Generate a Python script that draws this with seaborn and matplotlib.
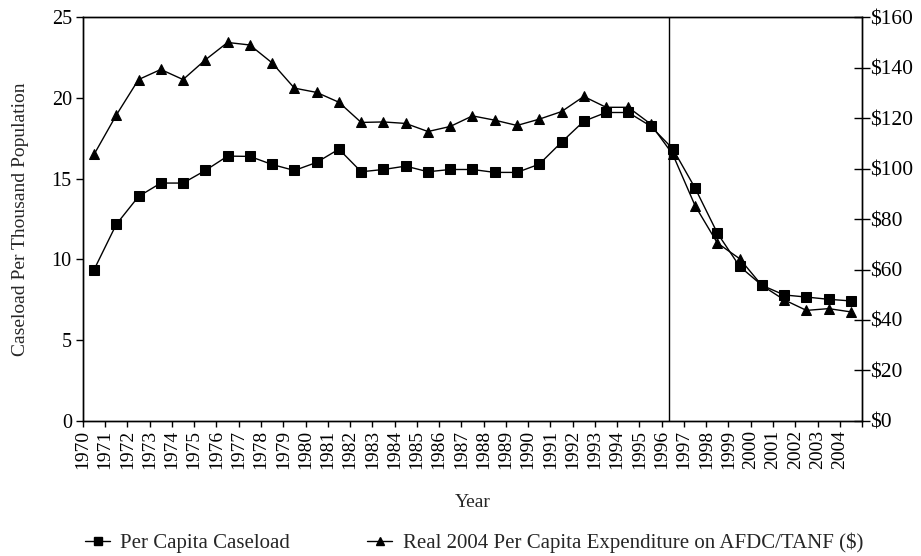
import numpy as np
import pandas as pd
import matplotlib
matplotlib.use("Agg")
import matplotlib.pyplot as plt
from matplotlib.lines import Line2D
import seaborn as sns

years = list(range(1970, 2005))
caseload = [9.36, 12.17, 13.90, 14.73, 14.73, 15.51, 16.40, 16.38, 15.88, 15.51,
            16.01, 16.83, 15.43, 15.57, 15.78, 15.43, 15.57, 15.57, 15.39, 15.39,
            15.90, 17.26, 18.56, 19.10, 19.10, 18.26, 16.85, 14.42, 11.63, 9.57,
            8.40, 7.80, 7.67, 7.53, 7.43]
expenditure = [105.6, 121.2, 135.3, 139.3, 135.3, 143.1, 150.0, 149.0, 141.9, 131.9,
               130.2, 126.3, 118.3, 118.5, 117.9, 114.7, 116.7, 120.9, 119.2, 117.1,
               119.6, 122.6, 128.6, 124.3, 124.3, 117.7, 105.6, 85.3, 70.5, 64.3,
               53.7, 48.0, 43.8, 44.5, 43.2]
reform_year = 1996.34
left_ticks = [0, 5, 10, 15, 20, 25]
right_ticks = [0, 20, 40, 60, 80, 100, 120, 140, 160]

df = pd.DataFrame({"year": years, "caseload": caseload, "expenditure": expenditure})
df["x"] = df["year"] + 0.5  # annual values drawn at mid-year

sns.set_style("ticks")
plt.rcParams["font.family"] = ["Liberation Serif", "DejaVu Serif"]
plt.rcParams["font.size"] = 14

fig, ax = plt.subplots(figsize=(9.21, 5.56), dpi=100)
fig.subplots_adjust(left=0.090, right=0.936, top=0.969, bottom=0.243)
ax2 = ax.twinx()

sns.lineplot(data=df, x="x", y="caseload", ax=ax, color="black", lw=1,
             marker="s", markersize=6.5, markeredgecolor="black")
sns.lineplot(data=df, x="x", y="expenditure", ax=ax2, color="black", lw=1,
             marker="^", markersize=6.5, markeredgecolor="black")
ax.axvline(reform_year, color="black", lw=1)

ax.set_xlim(1970, 2005)
ax.set_ylim(0, 25)
ax2.set_ylim(0, 160)
ax.set_xticks(list(range(1970, 2006)))
ax.set_xticklabels([str(y) for y in years] + [""], rotation=90)
ax.set_yticks(left_ticks)
ax2.set_yticks(right_ticks)
ax2.set_yticklabels([f"${v}" for v in right_ticks])

ax.set_xlabel("Year", labelpad=18, fontsize=14)
ax.set_ylabel("Caseload Per Thousand Population", fontsize=14, labelpad=16)
ax2.set_ylabel("")

for a in (ax, ax2):
    for s in a.spines.values():
        s.set_color("black")
        s.set_linewidth(1)
ax.tick_params(axis="x", direction="out", length=4.5, width=1, colors="black", labelsize=14, pad=2)
ax.tick_params(axis="y", direction="out", length=5, width=1, colors="black", labelsize=14.5, pad=3)
ax2.tick_params(axis="y", direction="inout", length=11, width=1, colors="black", labelsize=15.5, pad=0)

handles = [Line2D([], [], color="black", lw=1, marker="s", markersize=6),
           Line2D([], [], color="black", lw=1, marker="^", markersize=6)]
labels = ["Per Capita Caseload", "Real 2004 Per Capita Expenditure on AFDC/TANF ($)"]
fig.legend(handles, labels, loc="center left", bbox_to_anchor=(0.081, 0.023), ncol=2,
           frameon=False, borderpad=0, handlelength=1.2, handletextpad=0.5,
           columnspacing=3.7, fontsize=15)

fig.savefig("out.png", dpi=100)
